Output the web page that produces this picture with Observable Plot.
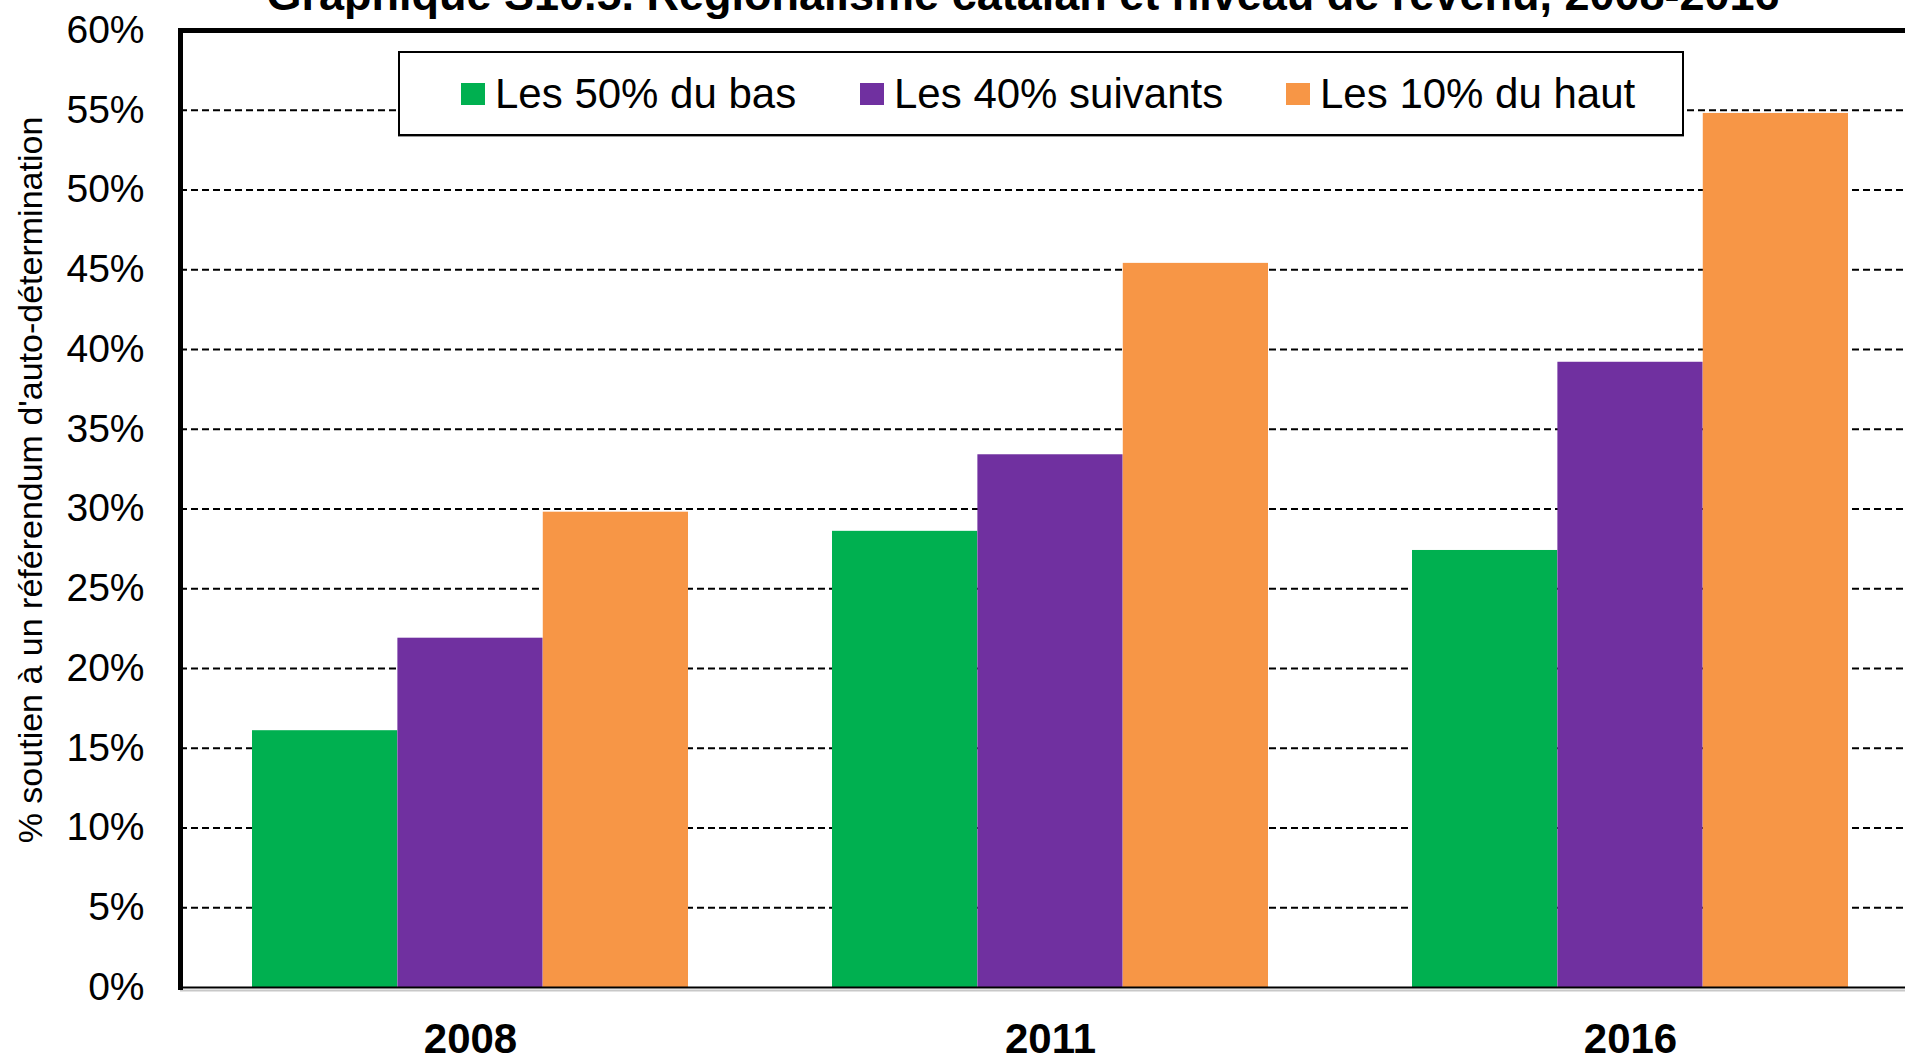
<!DOCTYPE html>
<html>
<head>
<meta charset="utf-8">
<script src="https://cdn.jsdelivr.net/npm/d3@7"></script>
<script src="https://cdn.jsdelivr.net/npm/@observablehq/plot@0.6"></script>
<style>
  html, body { margin: 0; padding: 0; background: #fff; overflow: hidden; }
  #wrap { position: relative; width: 1905px; height: 1056px; overflow: hidden; font-family: "Liberation Sans", Arial, sans-serif; }
  #title { position: absolute; top: -28px; left: 1023px; transform: translateX(-50%); white-space: nowrap;
           font-size: 45px; line-height: 45px; font-weight: bold; color: #000; }
  #ylabel { position: absolute; left: 30px; top: 480px; transform: translate(-50%, -50%) rotate(-90deg);
            white-space: nowrap; font-size: 34px; line-height: 34px; color: #000; }
  #legend { position: absolute; left: 398px; top: 51px; width: 1282px; height: 81px; background: #fff;
            border: 2px solid #000; box-shadow: 0 1px 0 #999; }
  .item { position: absolute; top: 0; height: 81px; display: flex; align-items: center; font-size: 42px; white-space: nowrap; }
  .sw { width: 24px; height: 22px; margin-right: 10px; }
  #chart { width: 1925px; }
  #chart svg { display: block; max-width: none !important; width: 1925px !important; height: 1056px !important; }
</style>
</head>
<body>
<div id="wrap">
  <div id="chart"></div>
  <div id="title"></div>
  <div id="ylabel"></div>
  <div id="legend"></div>
</div>
<script>
const titleText = "Graphique S10.5. Régionalisme catalan et niveau de revenu, 2008-2016";
const yLabel = "% soutien à un référendum d'auto-détermination";
const years = ["2008", "2011", "2016"];
const series = ["Les 50% du bas", "Les 40% suivants", "Les 10% du haut"];
const colors = ["#00B050", "#7030A0", "#F79646"];
const bas = [16.1, 28.6, 27.4];
const suivants = [21.9, 33.4, 39.2];
const haut = [29.8, 45.4, 54.8];
const yTicks = [0, 5, 10, 15, 20, 25, 30, 35, 40, 45, 50, 55, 60];
const gridTicks = [5, 10, 15, 20, 25, 30, 35, 40, 45, 50, 55];

const seriesValues = [bas, suivants, haut];
const data = years.flatMap((yr, i) => series.map((s, k) => ({year: yr, series: s, value: seriesValues[k][i]})));

const W = 1925, H = 1056, mL = 180, mR = 5, mT = 30, mB = 69;
const padIn = 0.248, padOut = 0.124;
const step = (W - mL - mR) / (years.length - padIn + 2 * padOut);
const bw = step * (1 - padIn);
const barW = bw / series.length;

const barMarks = series.map((s, k) => Plot.barY(data.filter(d => d.series === s), {
  x: "year", y: "value", fill: "series",
  insetLeft: k * barW, insetRight: (series.length - 1 - k) * barW
}));

const chart = Plot.plot({
  width: W, height: H,
  marginLeft: mL, marginRight: mR, marginTop: mT, marginBottom: mB,
  style: {fontFamily: "'Liberation Sans', Arial, sans-serif", color: "#000", background: "#fff", maxWidth: "none"},
  x: {domain: years, paddingInner: padIn, paddingOuter: padOut, label: null},
  y: {domain: [0, 60], label: null},
  color: {domain: series, range: colors},
  marks: [
    Plot.ruleY(gridTicks, {stroke: "#000", strokeWidth: 2, strokeDasharray: "7,4"}),
    ...barMarks,
    Plot.ruleY([0], {stroke: "#c8c8c8", strokeWidth: 2, dy: 3}),
    Plot.ruleY([0], {stroke: "#000", strokeWidth: 2}),
    Plot.ruleY([60], {stroke: "#000", strokeWidth: 5}),
    Plot.frame({anchor: "left", stroke: "#000", strokeWidth: 5}),
    Plot.axisY({ticks: yTicks, tickSize: 0, tickPadding: 36, fontSize: 39, tickFormat: d => d + "%", label: null}),
    Plot.axisX({tickSize: 0, tickPadding: 36, fontSize: 42, fontWeight: "bold", label: null})
  ]
});
document.getElementById("chart").appendChild(chart);

document.getElementById("title").textContent = titleText;
document.getElementById("ylabel").textContent = yLabel;
const legendLefts = [61, 460, 886];
const legend = document.getElementById("legend");
series.forEach((s, k) => {
  const it = document.createElement("div");
  it.className = "item";
  it.style.left = legendLefts[k] + "px";
  const sw = document.createElement("div");
  sw.className = "sw";
  sw.style.background = colors[k];
  const tx = document.createElement("span");
  tx.textContent = s;
  it.appendChild(sw); it.appendChild(tx);
  legend.appendChild(it);
});
</script>
</body>
</html>
